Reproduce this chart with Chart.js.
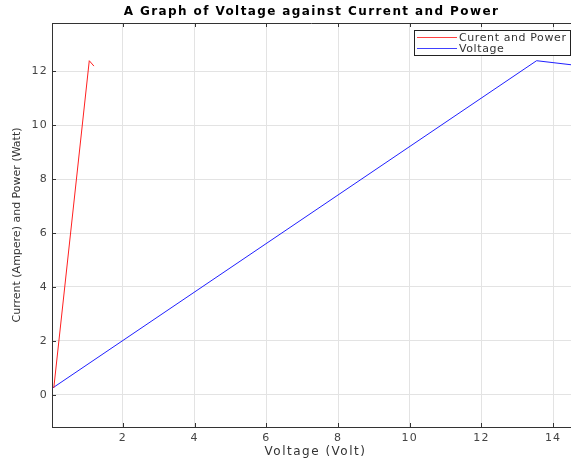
<!DOCTYPE html>
<html>
<head>
<meta charset="utf-8">
<script src="https://cdn.jsdelivr.net/npm/chart.js@4"></script>
<style>
  html, body { margin: 0; padding: 0; background: #fff; }
  #wrap { width: 571px; height: 459px; }
</style>
</head>
<body>
<div id="wrap"><canvas id="myChart" width="571" height="459"></canvas></div>
<script>
// datos
const currentX = [0.07, 1.06, 1.19];
const currentY = [0.25, 12.4, 12.2];
const voltageX = [0.04, 13.54, 14.5];
const voltageY = [0.25, 12.4, 12.25];
const xTicks = [2, 4, 6, 8, 10, 12, 14];
const yTicks = [0, 2, 4, 6, 8, 10, 12];

const FONT = 'DejaVu Sans';
const ctx = document.getElementById('myChart').getContext('2d');

function toPoints(xs, ys) {
    return xs.map((x, i) => ({ x: x, y: ys[i] }));
}

// titulos, marco superior, ticks hacia adentro y leyenda
const decorPlugin = {
    id: 'decor',
    beforeDraw(chart) {
        chart.ctx.letterSpacing = '1.2px'; // las etiquetas del original son espaciadas
    },
    afterDraw(chart) {
        const c = chart.ctx;
        const a = chart.chartArea;
        const xs = chart.scales.x;
        const ys = chart.scales.y;
        c.save();
        const cx = (a.left + a.right) / 2;

        c.fillStyle = '#000';
        c.font = 'bold 12px ' + FONT;
        c.letterSpacing = '1.4px';
        c.textAlign = 'center';
        c.textBaseline = 'middle';
        c.fillText('A Graph of Voltage against Current and Power', cx, 12);

        c.fillStyle = '#333';
        c.font = '12px ' + FONT;
        c.letterSpacing = '1.5px';
        c.fillText('Voltage (Volt)', cx + 4, 452);

        c.save();
        c.translate(17, (a.top + a.bottom) / 2);
        c.rotate(-Math.PI / 2);
        c.font = '11px ' + FONT;
        c.letterSpacing = '0px';
        c.fillText('Current (Ampere) and Power (Watt)', 0, 0);
        c.restore();

        c.strokeStyle = '#333';
        c.lineWidth = 1;
        c.beginPath();
        c.moveTo(a.left, a.top + 0.5);
        c.lineTo(a.right, a.top + 0.5);
        xTicks.forEach(v => {
            const px = Math.round(xs.getPixelForValue(v)) + 0.5;
            c.moveTo(px, a.top); c.lineTo(px, a.top + 4);
            c.moveTo(px, a.bottom); c.lineTo(px, a.bottom - 4);
        });
        yTicks.forEach(v => {
            const py = Math.round(ys.getPixelForValue(v)) + 0.5;
            c.moveTo(a.left, py); c.lineTo(a.left + 4, py);
        });
        c.stroke();

        // leyenda
        const lx = 414, ly = 30, lw = 156, lh = 25;
        c.fillStyle = '#fff';
        c.fillRect(lx, ly, lw, lh);
        c.strokeStyle = '#222';
        c.strokeRect(lx + 0.5, ly + 0.5, lw, lh);
        c.font = '11px ' + FONT;
        c.letterSpacing = '0.6px';
        c.textAlign = 'left';
        const legendColors = ['#ff4040', '#4040ff'];
        chart.data.datasets.forEach((ds, i) => {
            const yy = ly + 7 + i * 11;
            c.fillStyle = legendColors[i];
            c.fillRect(lx + 3, yy, 40, 1);
            c.fillStyle = '#333';
            c.fillText(ds.label, lx + 45, yy + 1);
        });
        c.restore();
    }
};

new Chart(ctx, {
    type: 'scatter',
    data: {
        datasets: [{
            label: 'Curent and Power',
            data: toPoints(currentX, currentY),
            borderColor: '#ff2020',
            borderWidth: 1,
            showLine: true,
            pointRadius: 0,
            fill: false
        }, {
            label: 'Voltage',
            data: toPoints(voltageX, voltageY),
            borderColor: '#2020ff',
            borderWidth: 1,
            showLine: true,
            pointRadius: 0,
            fill: false
        }]
    },
    options: {
        responsive: false,
        animation: false,
        layout: { padding: { top: 23, right: 0, left: 0, bottom: 0 } },
        plugins: {
            legend: { display: false },
            title: { display: false },
            tooltip: { enabled: false }
        },
        scales: {
            x: {
                type: 'linear',
                min: 0.02,
                max: 14.5,
                afterFit: s => { s.height = 32; },
                afterBuildTicks: s => { s.ticks = xTicks.map(v => ({ value: v })); },
                grid: { color: '#e3e3e3', drawTicks: false },
                border: { display: true, color: '#333' },
                ticks: { color: '#444', font: { family: FONT, size: 11 }, padding: 5, maxRotation: 0 },
                title: { display: false }
            },
            y: {
                type: 'linear',
                min: -1.2,
                max: 13.8,
                afterFit: s => { s.width = 52; },
                afterBuildTicks: s => { s.ticks = yTicks.map(v => ({ value: v })); },
                grid: { color: '#e3e3e3', drawTicks: false },
                border: { display: true, color: '#333' },
                ticks: { color: '#444', font: { family: FONT, size: 11 }, padding: 4 },
                title: { display: false }
            }
        }
    },
    plugins: [decorPlugin]
});
</script>
</body>
</html>
